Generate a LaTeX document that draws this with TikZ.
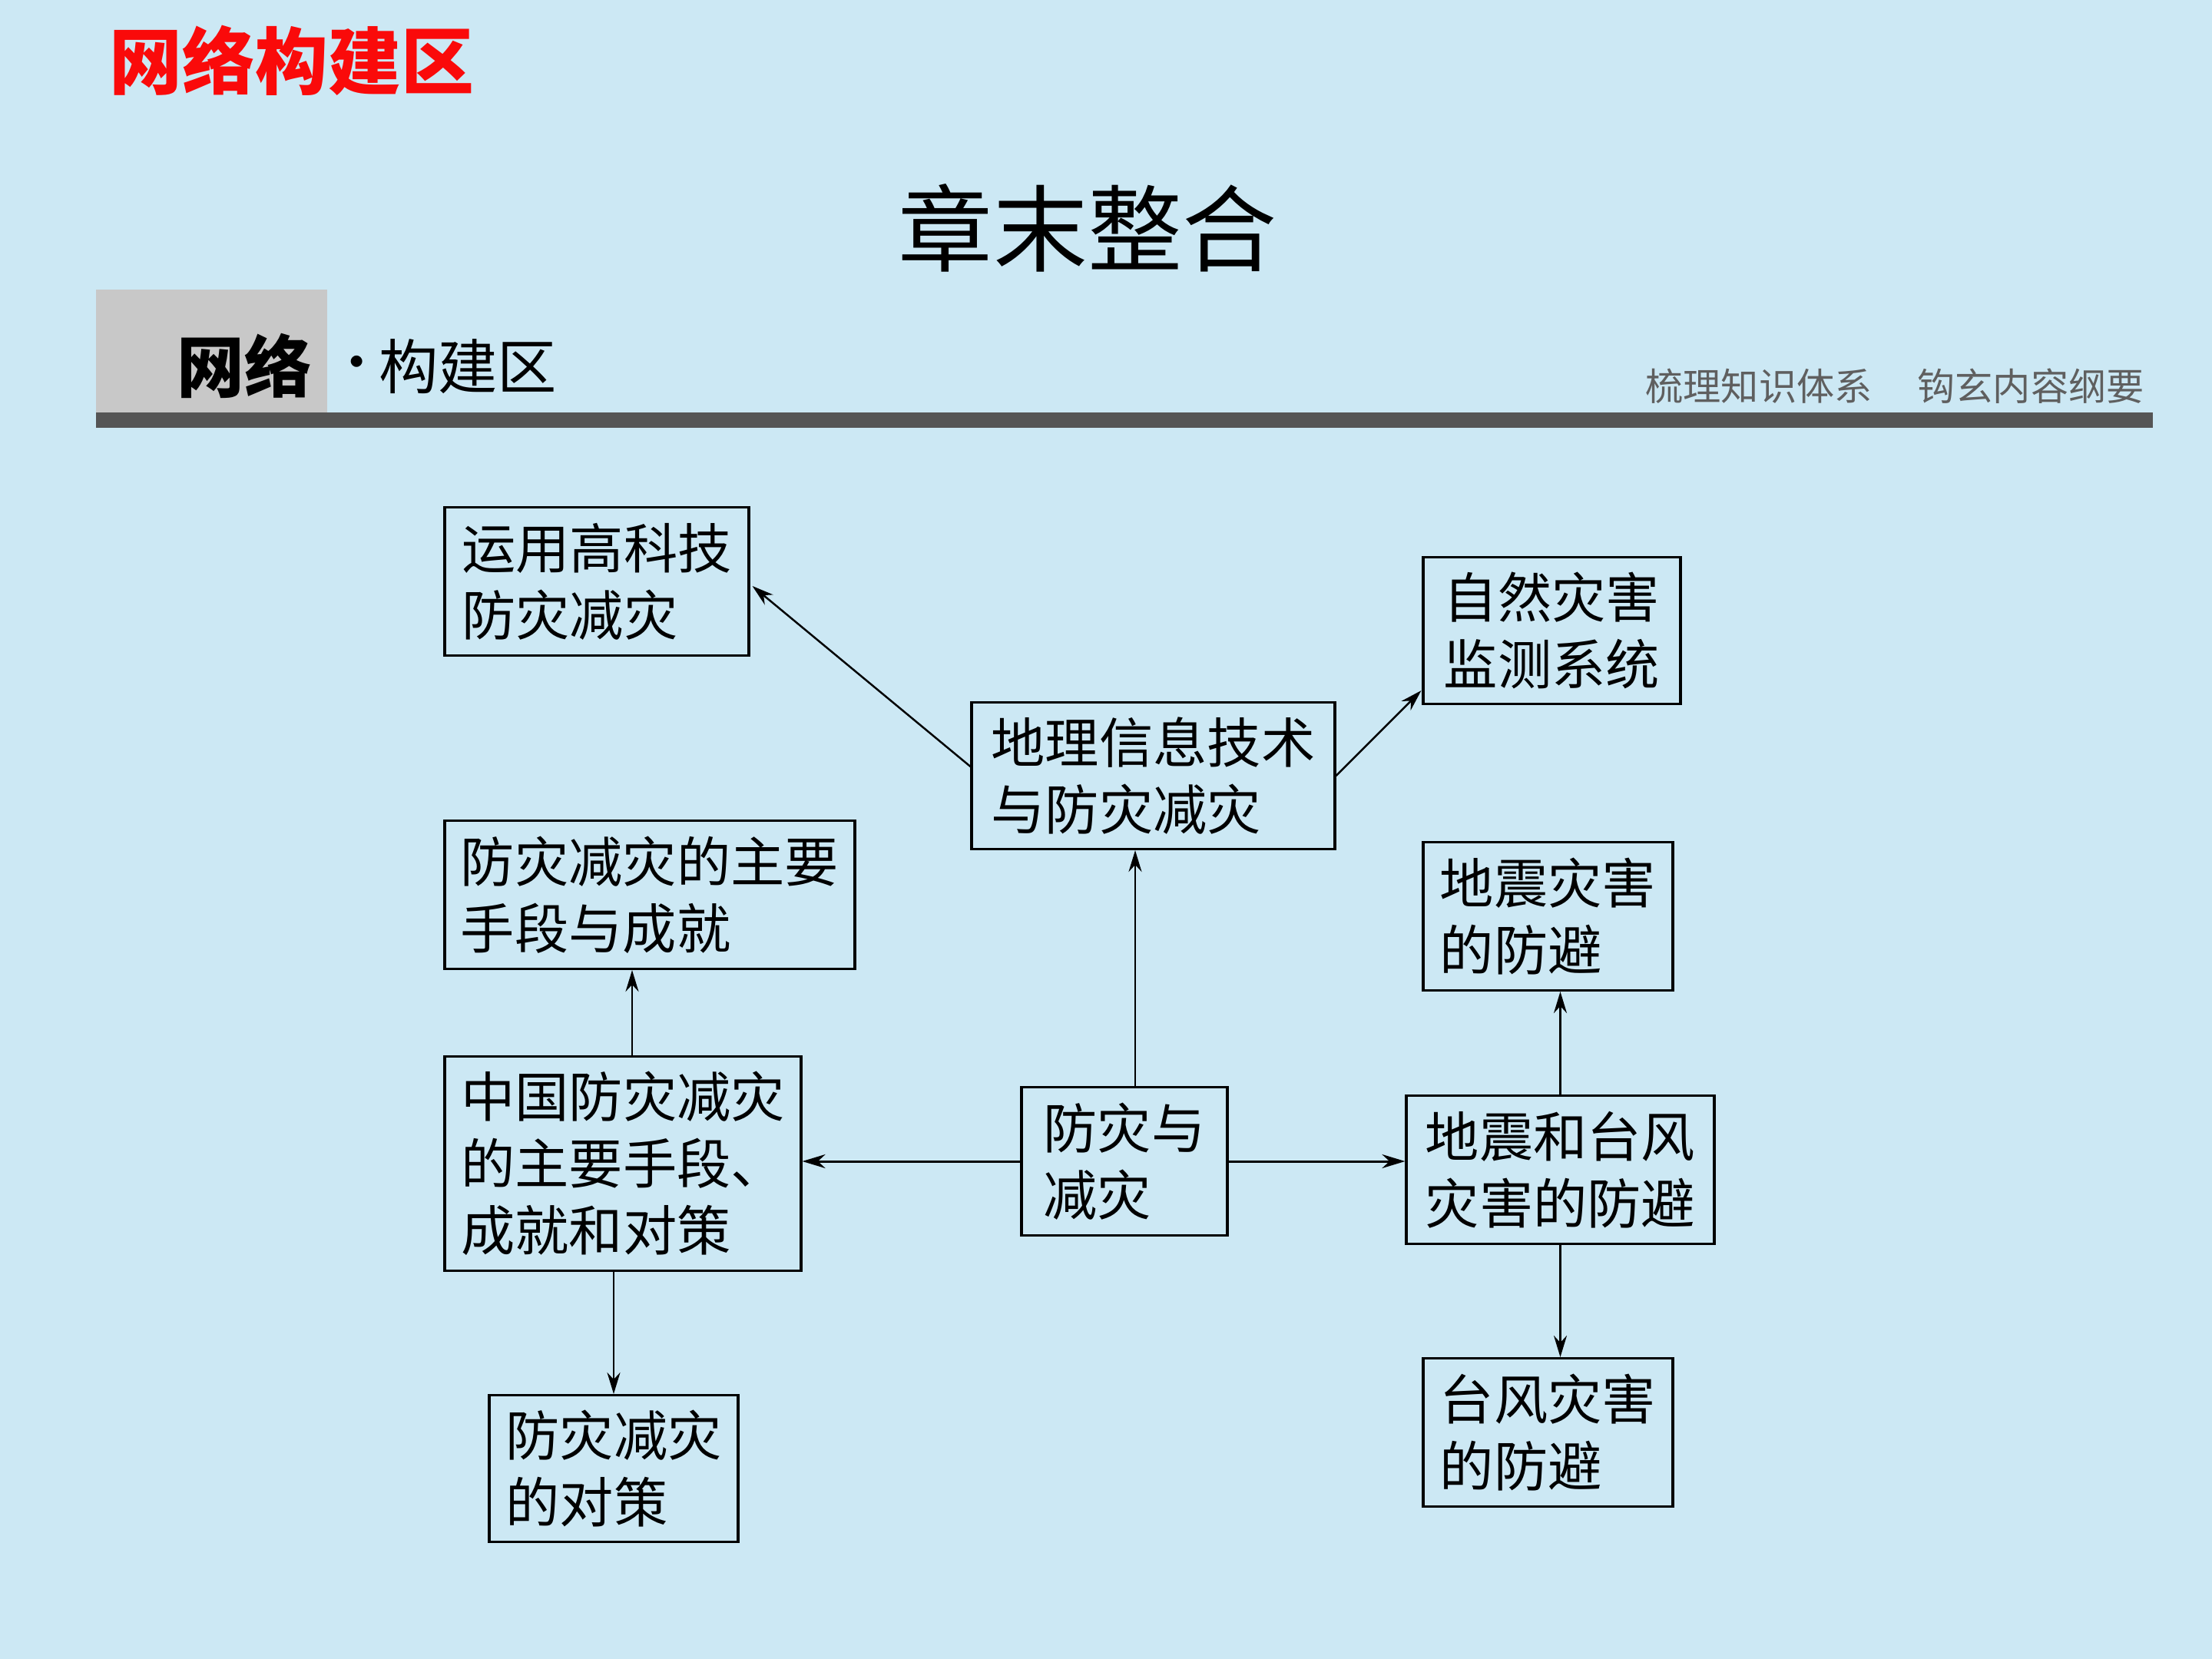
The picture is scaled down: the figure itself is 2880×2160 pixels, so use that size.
\documentclass[tikz,border=0pt]{standalone}
\usepackage{fontspec}
\setmainfont{Noto Sans CJK SC}
\usetikzlibrary{arrows.meta,calc}
\definecolor{bg}{RGB}{204,232,244}
\definecolor{titlered}{RGB}{250,10,10}
\definecolor{bargray}{RGB}{85,85,85}
\definecolor{boxgray}{RGB}{200,200,200}
\definecolor{subgray}{RGB}{95,95,95}
\begin{document}
\begin{tikzpicture}[x=0.1mm,y=-0.1mm,
  box/.style={draw=black,line width=0.9pt,align=left,inner sep=0pt,
    font=\fontsize{20}{24.75}\selectfont},
  arr/.style={line width=0.7pt,-{Stealth[length=2.8mm,width=1.7mm]}},
  arrb/.style={line width=0.85pt,-{Stealth[length=3mm,width=1.8mm]}}]
\fill[bg] (0,0) rectangle (2880,2160);
\useasboundingbox (0,0) rectangle (2880,2160);
% header
\node[font=\fontsize{27}{30}\selectfont\bfseries,text=titlered] (hd) at (380,79) {网络构建区};
\node[font=\fontsize{35}{40}\selectfont] (title) at (1416,297) {章末整合};
\fill[boxgray] (125,377) rectangle (426,537);
\fill[bargray] (125,537) rectangle (2803,557);
\node[font=\fontsize{25}{28}\selectfont\bfseries] (wl) at (318,476) {网络};
\node[font=\fontsize{20}{24}\selectfont] (dot) at (465,480) {·};
\node[font=\fontsize{22}{26}\selectfont] (gjq) at (609,477) {构建区};
\node[font=\fontsize{14}{16}\selectfont,text=subgray] (s1) at (2290,503) {梳理知识体系};
\node[font=\fontsize{14}{16}\selectfont,text=subgray] (s2) at (2644,503) {钩玄内容纲要};
% boxes
\node[box,minimum width=39.6mm,minimum height=19.3mm] (yy) at (777,757) {运用高科技\\防灾减灾};
\node[box,minimum width=33.5mm,minimum height=19.1mm] (zr) at (2020.5,821) {自然灾害\\监测系统};
\node[box,minimum width=47.3mm,minimum height=19.1mm] (dl) at (1501.5,1010) {地理信息技术\\与防灾减灾};
\node[box,minimum width=53.4mm,minimum height=19.3mm] (zy) at (846,1165) {防灾减灾的主要\\手段与成就};
\node[box,minimum width=32.5mm,minimum height=19.3mm] (dz) at (2015.5,1193) {地震灾害\\的防避};
\node[box,minimum width=46.4mm,minimum height=27.9mm] (zg) at (811,1515) {中国防灾减灾\\的主要手段、\\成就和对策};
\node[box,minimum width=26.8mm,minimum height=19.3mm] (fz) at (1464,1512) {防灾与\\减灾};
\node[box,minimum width=40.1mm,minimum height=19.3mm] (dt) at (2031.5,1523) {地震和台风\\灾害的防避};
\node[box,minimum width=32.4mm,minimum height=19.1mm] (dc) at (799,1912) {防灾减灾\\的对策};
\node[box,minimum width=32.5mm,minimum height=19.3mm] (tf) at (2015.5,1865) {台风灾害\\的防避};
% helper coordinates
\coordinate (c1) at (1478,0);
\coordinate (c2) at (823,0);
% connectors
\draw[arr] ($(dl.west)+(0,-12)$) -- ($(yy.east)+(3,6)$);
\draw[arr] (dl.east) -- ($(zr.south west)+(-1,-19)$);
\draw[arr] (fz.north -| c1) -- (dl.south -| c1);
\draw[arr] (zg.north -| c2) -- (zy.south -| c2);
\draw[arr] (zg.south -| dc.north) -- (dc.north);
\draw[arrb] (fz.west) -- (zg.east |- fz.west);
\draw[arrb] (fz.east) -- (dt.west |- fz.east);
\draw[arr] (dt.north) -- (dz.south -| dt.north);
\draw[arr] (dt.south) -- (tf.north -| dt.south);
\end{tikzpicture}
\end{document}
